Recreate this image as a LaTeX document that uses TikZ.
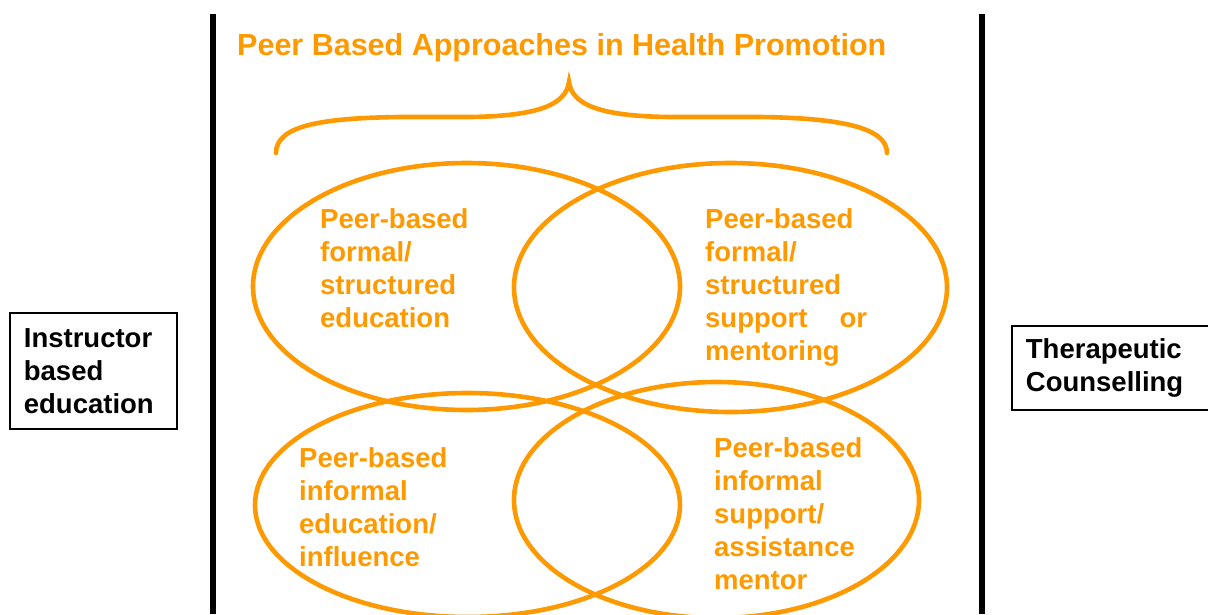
\documentclass[tikz,border=0pt]{standalone}
\usepackage{fontspec}
\setmainfont{Liberation Sans}
\definecolor{peer}{HTML}{FF9900}
\begin{document}
\begin{tikzpicture}[x=1pt,y=-1pt,
  ring/.style={draw=peer, line width=4.6pt},
  % multi-line labels: the base anchor sits on the last line's baseline
  peertext/.style={text=peer, font=\fontsize{27.5}{33}\selectfont\bfseries,
    align=left, inner sep=0pt, anchor=base west},
  sidebox/.style={draw=black, line width=1.8pt, anchor=north west,
    font=\fontsize{27.5}{33}\selectfont\bfseries, align=left,
    inner xsep=14pt, inner ysep=0pt},
  divider/.style={draw=black, line width=6pt}]
\useasboundingbox (0,0) rectangle (1208,614);

% separating rules
\draw[divider] (212.5,14) -- (212.5,614);
\draw[divider] (981.5,14) -- (981.5,614);

% heading and brace
\node[text=peer, font=\fontsize{30.5}{36}\selectfont\bfseries, inner sep=0pt,
  anchor=base west] (title) at (237,55) {Peer Based Approaches in Health Promotion};
\draw[draw=peer, line width=4.6pt, line cap=round]
  (276,153) .. controls (276,126) and (320,118) .. (400,117)
  -- (470,117) .. controls (540,116) and (566,104) .. (569,82)
  .. controls (572,104) and (598,116) .. (668,117)
  -- (760,117) .. controls (842,118) and (887,128) .. (887,153);

% overlapping ellipses
\draw[ring] (466.5,286.5) ellipse [x radius=213.5pt, y radius=123.5pt];
\draw[ring] (730.5,287.5) ellipse [x radius=216.5pt, y radius=124.5pt];
\draw[ring] (467.5,505) ellipse [x radius=212.5pt, y radius=112pt];
\draw[ring] (716.5,500) ellipse [x radius=202.5pt, y radius=118pt];

% ellipse labels
\node[peertext] (fe) at (320,327) {Peer-based\\formal/\\structured\\education};
\node[peertext] (fs) at (705,360) {Peer-based\\formal/\\structured\\support\hspace{32pt}or\\mentoring};
\node[peertext] (ie) at (299,566) {Peer-based\\informal\\education/\\influence};
\node[peertext] (is) at (714,589) {Peer-based\\informal\\support/\\assistance\\mentor};

% side boxes
\node[sidebox, minimum width=167pt, minimum height=116pt, text width=139pt,
  inner xsep=14pt] (instr) at (9,312) {Instructor\\based\\education};
\node[sidebox, minimum height=84pt, text width=180pt] (thera) at (1011,325)
  {Therapeutic\\Counselling};
\end{tikzpicture}
\end{document}
